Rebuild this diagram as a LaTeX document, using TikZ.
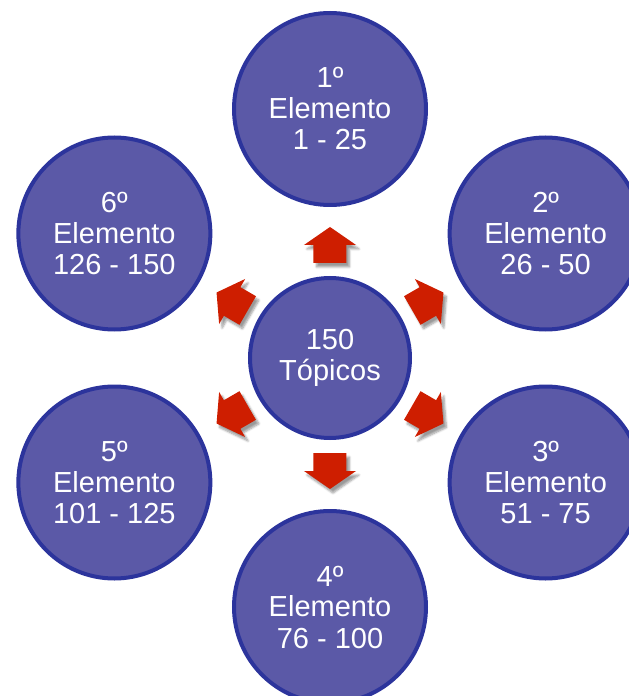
\documentclass[tikz,border=0pt]{standalone}
\usepackage{fontspec}
\setmainfont{Liberation Sans}
\usetikzlibrary{shadows.blur}
\definecolor{roxo}{RGB}{91,89,167}
\definecolor{azul}{RGB}{44,52,156}
\definecolor{vermelho}{RGB}{206,30,0}
\tikzset{
  bola/.style={circle, fill=roxo, draw=azul, line width=4pt, text=white,
    align=center, inner sep=0pt, font=\fontsize{29}{31}\selectfont},
  seta/.pic={
    \fill[vermelho, blur shadow={shadow xshift=3pt, shadow yshift=-4pt,
      shadow blur steps=6, shadow opacity=40}]
      (-18,-16.5) -- (0,-16.5) -- (0,-26) -- (18,0) -- (0,26)
      -- (0,16.5) -- (-18,16.5) -- cycle;
  }
}
\begin{document}
\begin{tikzpicture}[x=1pt,y=1pt]
\useasboundingbox (-330,-338) rectangle (299,358);
% centro
\node[bola, minimum size=160pt] (centro) at (0,0) {150\\Tópicos};
% elementos
\node[bola, minimum size=192pt] (e1) at (90:249) {1º\\Elemento\\1 - 25};
\node[bola, minimum size=192pt] (e2) at (30:249) {2º\\Elemento\\26 - 50};
\node[bola, minimum size=192pt] (e3) at (-30:249) {3º\\Elemento\\51 - 75};
\node[bola, minimum size=192pt] (e4) at (-90:249) {4º\\Elemento\\76 - 100};
\node[bola, minimum size=192pt] (e5) at (-150:249) {5º\\Elemento\\101 - 125};
\node[bola, minimum size=192pt] (e6) at (150:249) {6º\\Elemento\\126 - 150};
% setas
\pic[rotate=90] at (90:113) {seta};
\pic[rotate=30] at (30:113) {seta};
\pic[rotate=-30] at (-30:113) {seta};
\pic[rotate=-90] at (-90:113) {seta};
\pic[rotate=-150] at (-150:113) {seta};
\pic[rotate=150] at (150:113) {seta};
\end{tikzpicture}
\end{document}
